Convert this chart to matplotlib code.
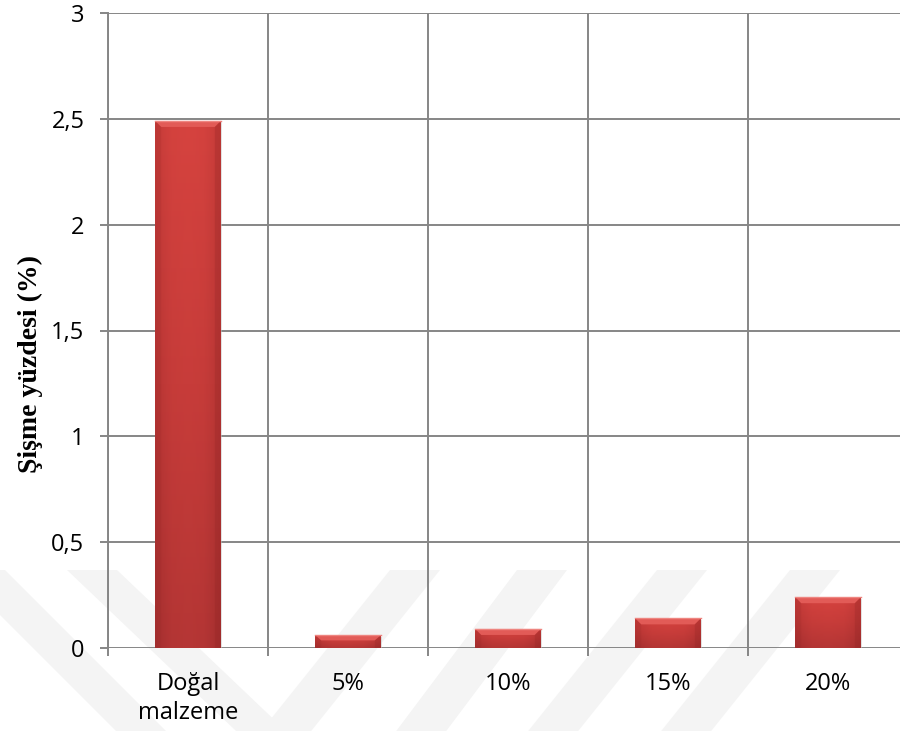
import numpy as np
import matplotlib
matplotlib.use("Agg")
import matplotlib.pyplot as plt
from matplotlib.patches import Rectangle, Polygon
from matplotlib.colors import LinearSegmentedColormap
from matplotlib.ticker import FuncFormatter, FixedLocator

categories = ["Doğal\nmalzeme", "5%", "10%", "15%", "20%"]
swelling = [2.49, 0.06, 0.09, 0.14, 0.24]
y_ticks = [0, 0.5, 1, 1.5, 2, 2.5, 3]
y_label = "Şişme yüzdesi (%)"

W, H, DPI = 900, 731, 100
GRID = "#868686"
BAR_W = 0.41

fig = plt.figure(figsize=(W / DPI, H / DPI), dpi=DPI)
fig.patch.set_facecolor("white")

# faint diagonal watermark bands, on a background axes in pixel units
bg = fig.add_axes([0, 0, 1, 1], zorder=-5)
bg.set_xlim(0, W)
bg.set_ylim(H, 0)
bg.axis("off")
band_top, band_bot, band_w = 570, 731, 50
bands = [(-45, 1.0), (67, 1.05), (390, -0.8), (517, -0.75), (657, -0.8), (790, -0.8)]
for x0, slope in bands:
    dy = band_bot - band_top
    pts = [(x0, band_top), (x0 + band_w, band_top),
           (x0 + band_w + slope * dy, band_bot), (x0 + slope * dy, band_bot)]
    bg.add_patch(Polygon(pts, closed=True, facecolor="#f4f4f4", edgecolor="none"))

ax = fig.add_axes([108 / W, 83 / H, 800 / W, 635 / H])
ax.set_facecolor("none")
ax.set_xlim(-0.5, len(categories) - 0.5)
ax.set_ylim(0, 3)

for s in ["top", "right", "bottom"]:
    ax.spines[s].set_visible(False)
ax.spines["left"].set_color(GRID)
ax.spines["left"].set_linewidth(1.4)

ax.yaxis.set_major_locator(FixedLocator(y_ticks))
ax.yaxis.set_major_formatter(FuncFormatter(lambda v, _: f"{v:g}".replace(".", ",")))
ax.tick_params(axis="y", length=6, width=1.4, color=GRID, pad=11,
               labelsize=17, labelcolor="black")
ax.grid(axis="y", color=GRID, linewidth=1.4, zorder=1)

xs = np.arange(len(categories))
ax.set_xticks(xs)
ax.set_xticklabels(categories, fontsize=17, linespacing=1.3)
ax.set_xticks(np.arange(len(categories) + 1) - 0.5, minor=True)
ax.tick_params(axis="x", which="major", length=0, pad=17)
ax.tick_params(axis="x", which="minor", length=6, width=1.4, color=GRID)
ax.grid(axis="x", which="minor", color=GRID, linewidth=1.4, zorder=1)
for lab in ax.get_xticklabels() + ax.get_yticklabels():
    lab.set_fontfamily(["Open Sans", "DejaVu Sans"])

fig.text(30 / W, 1 - 364 / H, y_label, rotation=90, ha="center", va="center",
         fontsize=20, fontweight="bold", family=["Liberation Serif", "DejaVu Serif"])

# pixel sizes in data units
dx1 = len(categories) / 800
dy1 = 3.0 / 635

body = LinearSegmentedColormap.from_list("body", ["#a83131", "#c23a38", "#d6433f"])
side = LinearSegmentedColormap.from_list("side", ["#a02c2c", "#cf403d", "#d64440", "#cf403d", "#a02c2c"])


def draw_bar(x, h):
    left = x - BAR_W / 2
    # soft shadow
    ax.add_patch(Rectangle((left + 1.5 * dx1, -1.5 * dy1), BAR_W, h, facecolor="#c4c4c4",
                           alpha=0.5, edgecolor="none", zorder=2))
    rect = Rectangle((left, 0), BAR_W, h, facecolor="none", edgecolor="none", zorder=3)
    ax.add_patch(rect)
    grad = np.linspace(0, 1, 64).reshape(-1, 1) * np.ones((1, 16))
    im = ax.imshow(grad, cmap=body, extent=(left, left + BAR_W, 0, h), origin="lower",
                   aspect="auto", zorder=3, interpolation="bilinear")
    im.set_clip_path(rect)
    hgrad = np.linspace(0, 1, 32).reshape(1, -1)
    im2 = ax.imshow(hgrad, cmap=side, extent=(left, left + BAR_W, 0, h), aspect="auto",
                    zorder=3.1, alpha=0.3, interpolation="bilinear")
    im2.set_clip_path(rect)
    # bevel on top
    bx, by = 6 * dx1, min(6 * dy1, h * 0.4)
    ax.add_patch(Polygon([(left, h), (left + BAR_W, h), (left + BAR_W - bx, h - by),
                          (left + bx, h - by)], facecolor="#e25b57", edgecolor="none", zorder=3.2))
    ax.add_patch(Polygon([(left, h), (left + bx, h - by), (left + bx, 0), (left, 0)],
                         facecolor="#8f2424", alpha=0.15, edgecolor="none", zorder=3.2))
    ax.add_patch(Polygon([(left + BAR_W, h), (left + BAR_W - bx, h - by),
                          (left + BAR_W - bx, 0), (left + BAR_W, 0)],
                         facecolor="#8f2424", alpha=0.25, edgecolor="none", zorder=3.2))
    ax.plot([left, left + BAR_W], [h, h], color="#ee8580", linewidth=1.0, zorder=3.3)


for x, v in zip(xs, swelling):
    draw_bar(x, v)

ax.set_xlim(-0.5, len(categories) - 0.5)
ax.set_ylim(0, 3)

fig.savefig("out.png", dpi=DPI)
